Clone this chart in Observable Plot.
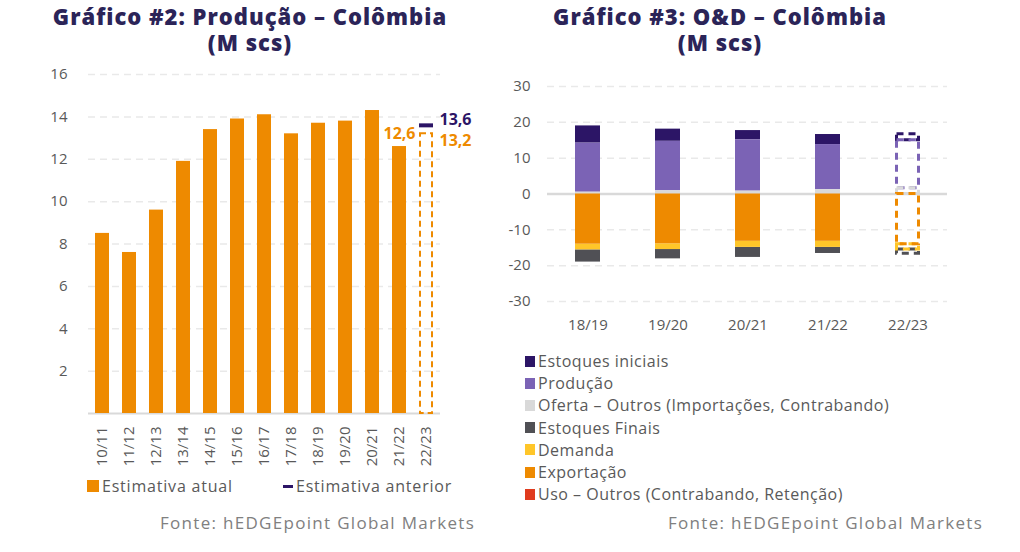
<!DOCTYPE html>
<html>
<head>
<meta charset="utf-8">
<script src="https://cdn.jsdelivr.net/npm/d3@7"></script>
<script src="https://cdn.jsdelivr.net/npm/@observablehq/plot@0.6"></script>
<style>
  body { margin: 0; background: #fff; }
  #root { position: relative; width: 1020px; height: 552px; overflow: hidden; background: #fff; font-family: "Open Sans", sans-serif; }
  .title { position: absolute; text-align: center; color: #2b2458; font-weight: 800; font-size: 22px; line-height: 24px; letter-spacing: 1px; white-space: nowrap; }
  .src { position: absolute; color: #808080; font-size: 17px; letter-spacing: 1.3px; white-space: nowrap; line-height: 22px; }
  .leg { position: absolute; color: #595959; white-space: nowrap; display: flex; align-items: center; line-height: 20px; }
  .sw { display: inline-block; margin-right: 3px; }
  .plotbox { position: absolute; }
</style>
</head>
<body>
<div id="root">
  <div class="title" style="left:0; top:4px; width:500px;">Gráfico #2: Produção – Colômbia</div>
  <div class="title" style="left:0; top:30px; width:500px;">(M scs)</div>
  <div class="title" style="left:470px; top:4px; width:500px;">Gráfico #3: O&amp;D – Colômbia</div>
  <div class="title" style="left:470px; top:30px; width:500px;">(M scs)</div>
  <div id="left" class="plotbox" style="left:0; top:60px;"></div>
  <div id="right" class="plotbox" style="left:510px; top:60px;"></div>
  <div class="src" style="left:160px; top:512px;">Fonte: hEDGEpoint Global Markets</div>
  <div class="src" style="left:668px; top:512px;">Fonte: hEDGEpoint Global Markets</div>
</div>
<script>
// ---------- Data: Gráfico #2 ----------
const prodCats = ["10/11","11/12","12/13","13/14","14/15","15/16","16/17","17/18","18/19","19/20","20/21","21/22","22/23"];
const prodValues = [8.5, 7.6, 9.6, 11.9, 13.4, 13.9, 14.1, 13.2, 13.7, 13.8, 14.3, 12.6, 13.2];
const prevCat = "22/23";
const prevValue = 13.6;
const forecastCat = "22/23";
const prodYTicks = [2, 4, 6, 8, 10, 12, 14, 16];

// ---------- Data: Gráfico #3 ----------
const odCats = ["18/19","19/20","20/21","21/22","22/23"];
const estoquesIniciais = [4.8, 3.4, 2.6, 2.8, 1.7];
const producao = [13.7, 13.8, 14.3, 12.6, 13.4];
const ofertaOutros = [0.5, 0.9, 0.8, 1.2, 1.6];
const estoquesFinais = [-3.4, -2.6, -2.8, -1.7, -1.2];
const demanda = [-1.6, -1.6, -1.7, -1.7, -1.5];
const exportacao = [-14.0, -13.9, -13.2, -13.2, -14.0];
const usoOutros = [0, 0, 0, 0, 0];
const odYTicks = [-30, -20, -10, 0, 10, 20, 30];

const seriesNames = ["Estoques iniciais","Produção","Oferta – Outros (Importações, Contrabando)","Estoques Finais","Demanda","Exportação","Uso – Outros (Contrabando, Retenção)"];
const seriesColors = ["#2c1566","#7b63b5","#d9d9d9","#505055","#ffc629","#ee8a00","#e03b1e"];
const seriesValues = [estoquesIniciais, producao, ofertaOutros, estoquesFinais, demanda, exportacao, usoOutros];
const stackOrder = ["Oferta – Outros (Importações, Contrabando)","Produção","Estoques iniciais","Exportação","Demanda","Estoques Finais","Uso – Outros (Contrabando, Retenção)"];

const ORANGE = "#ee8a00";
const NAVY = "#2c1566";
const FONT = "'Open Sans', sans-serif";

// ---------- Left chart ----------
const prodRows = prodCats.map((c, i) => ({cat: c, value: prodValues[i]}));
const histRows = prodRows.filter(d => d.cat !== forecastCat);
const fcRows = prodRows.filter(d => d.cat === forecastCat);
const lastHist = histRows[histRows.length - 1];
const fmt = d => d.value.toFixed(1).replace(".", ",");

const left = Plot.plot({
  width: 510, height: 420,
  marginLeft: 88, marginRight: 70, marginTop: 14, marginBottom: 67,
  style: {fontFamily: FONT, fontSize: "15px", color: "#595959", background: "transparent", overflow: "visible"},
  x: {domain: prodCats, paddingInner: 0.49, paddingOuter: 0.2, label: null, tickSize: 0, tickRotate: -90, tickPadding: 13},
  y: {domain: [0, 16], ticks: prodYTicks, label: null, tickSize: 0, tickPadding: 21},
  marks: [
    Plot.ruleY(prodYTicks, {stroke: "#e9e9e9", strokeWidth: 1.5, strokeDasharray: "7,5"}),
    Plot.ruleY([0], {stroke: "#d9d9d9", strokeWidth: 2}),
    Plot.barY(histRows, {x: "cat", y: "value", fill: ORANGE}),
    Plot.barY(fcRows, {x: "cat", y: "value", fill: "none", stroke: ORANGE, strokeWidth: 2, strokeDasharray: "6,4", insetLeft: 1, insetRight: 1}),
    Plot.tickY([{cat: prevCat, value: prevValue}], {x: "cat", y: "value", stroke: NAVY, strokeWidth: 4}),
    Plot.text([lastHist], {x: "cat", y: "value", text: fmt, dy: -13, fill: ORANGE, fontWeight: "bold", fontSize: 16}),
    Plot.text([{cat: prevCat, value: prevValue}], {x: "cat", y: "value", text: fmt, dx: 13, dy: -5, textAnchor: "start", fill: NAVY, fontWeight: "bold", fontSize: 16}),
    Plot.text(fcRows, {x: "cat", y: "value", text: fmt, dx: 13, dy: 7, textAnchor: "start", fill: ORANGE, fontWeight: "bold", fontSize: 16})
  ]
});
document.getElementById("left").appendChild(left);

// ---------- Right chart ----------
const odRows = seriesNames.flatMap((s, k) => odCats.map((c, i) => ({cat: c, serie: s, value: seriesValues[k][i]}))).filter(d => d.value !== 0);
const odHist = odRows.filter(d => d.cat !== forecastCat);
const odFc = odRows.filter(d => d.cat === forecastCat);

const right = Plot.plot({
  width: 500, height: 280,
  marginLeft: 37, marginRight: 63, marginTop: 26, marginBottom: 39,
  style: {fontFamily: FONT, fontSize: "15px", color: "#595959", background: "transparent", overflow: "visible"},
  x: {domain: odCats, paddingInner: 0.69, paddingOuter: 0.34, label: null, tickSize: 0, tickPadding: 18},
  y: {domain: [-30, 30], ticks: odYTicks, label: null, tickSize: 0, tickPadding: 17, tickFormat: d => String(d)},
  color: {domain: seriesNames, range: seriesColors},
  marks: [
    Plot.ruleY(odYTicks.filter(d => d !== 0), {stroke: "#e9e9e9", strokeWidth: 1.5, strokeDasharray: "7,5"}),
    Plot.ruleY([0], {stroke: "#d9d9d9", strokeWidth: 2.5}),
    Plot.barY(odHist, {x: "cat", y: "value", fill: "serie", order: stackOrder}),
    Plot.barY(odFc, {x: "cat", y: "value", stroke: "serie", fill: "none", strokeWidth: 3, strokeDasharray: "7,5", order: stackOrder, insetLeft: 1.5, insetRight: 1.5})
  ]
});
document.getElementById("right").appendChild(right);

// ---------- Legends ----------
const root = document.getElementById("root");
function addLeg(x, y, swatch, label, fs, ls) {
  const d = document.createElement("div");
  d.className = "leg";
  d.style.left = x + "px";
  d.style.top = y + "px";
  d.style.fontSize = fs + "px";
  d.style.letterSpacing = ls + "px";
  d.appendChild(swatch);
  d.appendChild(document.createTextNode(label));
  root.appendChild(d);
}
function square(color, w, h) {
  const s = document.createElement("span");
  s.className = "sw";
  s.style.background = color;
  s.style.width = w + "px";
  s.style.height = h + "px";
  return s;
}
addLeg(87, 476, square(ORANGE, 12, 12), "Estimativa atual", 16, 0.8);
addLeg(283, 476, square(NAVY, 10, 3), "Estimativa anterior", 16, 0.8);
seriesNames.forEach((s, i) => {
  addLeg(525, 351 + i * 22.2, square(seriesColors[i], 10, 11), s, 16, 0.5);
});
</script>
</body>
</html>
